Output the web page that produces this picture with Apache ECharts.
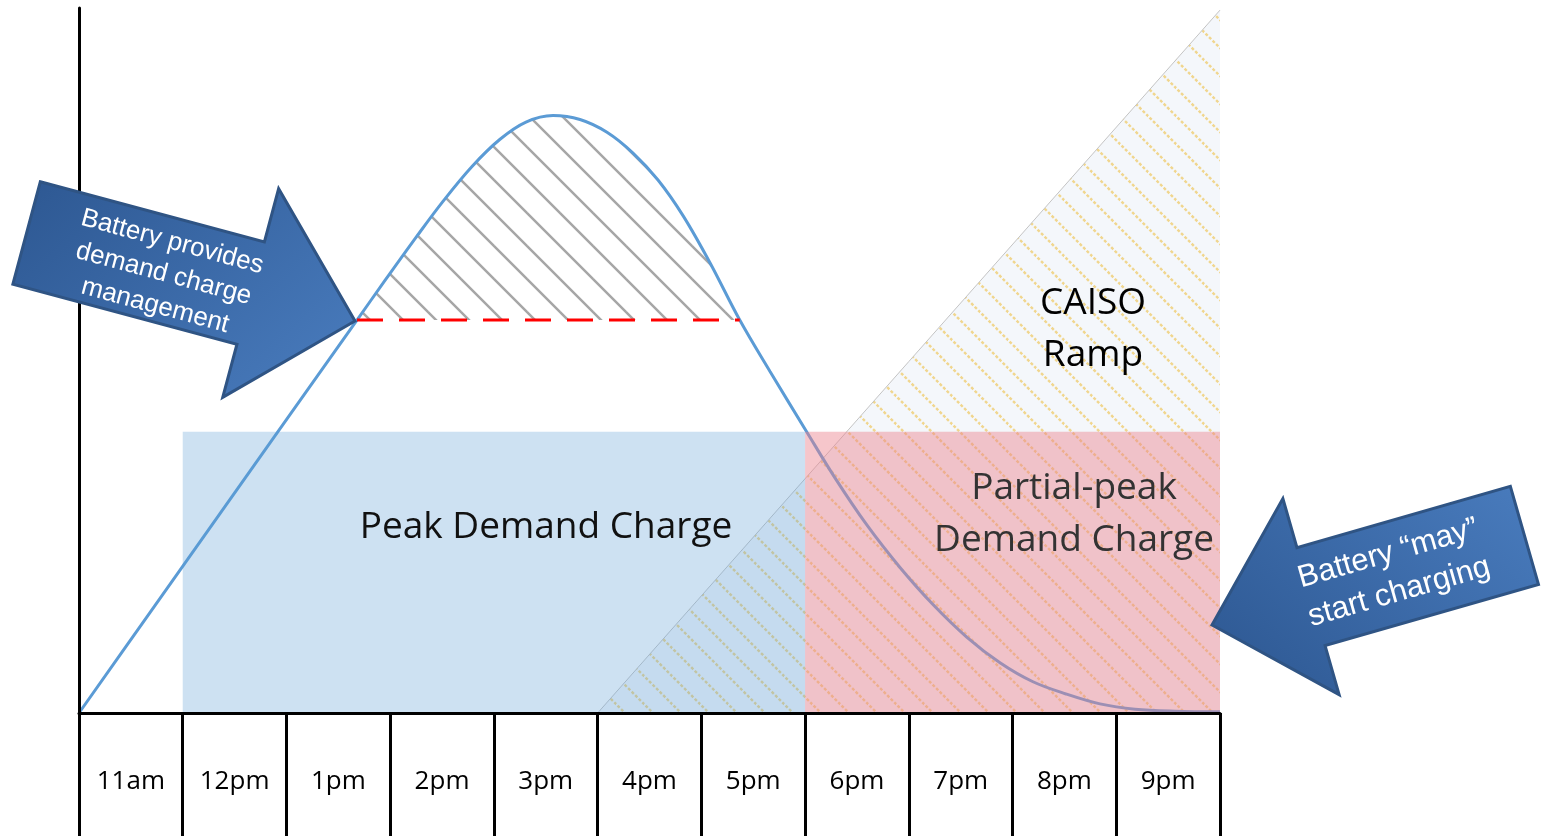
<!DOCTYPE html>
<html>
<head>
<meta charset="utf-8">
<title>Demand charge</title>
<script src="https://cdn.jsdelivr.net/npm/echarts@6/dist/echarts.min.js"></script>
<style>
  html, body { margin: 0; padding: 0; background: #fff; }
  #chart { width: 1542px; height: 836px; }
</style>
</head>
<body>
<div id="chart"></div>
<script>
// hour cells along the bottom
var hours = ['11am', '12pm', '1pm', '2pm', '3pm', '4pm', '5pm', '6pm', '7pm', '8pm', '9pm'];

// site demand curve (x = hours after 11am, y = relative demand)
var demandX = [0, 0.684, 1.359, 2.034, 2.68, 2.95, 3.249, 3.509, 3.789, 4.059, 4.309, 4.57, 4.83, 5.09,
               5.341, 5.582, 5.823, 6.083, 6.37, 6.662, 7.009, 7.288, 7.597, 7.915, 8.233, 8.561, 8.879,
               9.197, 9.515, 9.843, 10.18, 10.566, 11];
var demandY = [0, 14.24, 28.28, 42.33, 55.74, 61.35, 67.46, 72.57, 77.52, 81.38, 83.82, 84.75, 84.18, 82.37,
               79.42, 75.6, 70.55, 63.87, 55.74, 48.44, 40.04, 33.36, 26.64, 20.65, 15.39, 10.74, 7.13,
               4.43, 2.7, 1.29, 0.54, 0.26, 0.18];

// battery shaving level
var shaveLevel = 55.74;
var shaveRange = [2.68, 6.37];

// demand charge windows
var peakWindow = [1, 7];
var partialWindow = [7, 11];
var chargeTop = 39.9;

// CAISO ramp
var rampX = [5, 11];
var rampY = [0, 99.7];

function hatchTile(size, bg, color, width, dash, offset) {
  var c = document.createElement('canvas');
  c.width = size;
  c.height = size;
  var ctx = c.getContext('2d');
  if (bg) {
    ctx.fillStyle = bg;
    ctx.fillRect(0, 0, size, size);
  }
  ctx.strokeStyle = color;
  ctx.lineWidth = width;
  if (dash) ctx.setLineDash(dash);
  for (var k = -1; k <= 1; k++) {
    ctx.beginPath();
    ctx.moveTo(-2, offset + k * size - 2);
    ctx.lineTo(size + 2, offset + k * size + size + 2);
    ctx.stroke();
  }
  return c;
}

var grayHatch = hatchTile(33, null, '#a6a6a6', 2.5, null, 16);
var rampHatch = hatchTile(28, '#f4f7fb', '#f0d68e', 2.4, [3, 2], 4);

var curveData = demandX.map(function (x, i) { return [x, demandY[i]]; });
var shaveData = curveData.filter(function (p) { return p[0] >= shaveRange[0] && p[0] <= shaveRange[1]; });

var chart = echarts.init(document.getElementById('chart'));

var option = {
  animation: false,
  grid: { left: 79, right: 322, top: 8, bottom: 123 },
  xAxis: [
    { type: 'value', min: 0, max: 11, show: false },
    {
      type: 'category',
      data: hours,
      position: 'bottom',
      boundaryGap: true,
      z: 10,
      axisLine: { show: true, lineStyle: { color: '#000', width: 3 } },
      axisTick: { show: true, length: 123, lineStyle: { color: '#000', width: 3 } },
      axisLabel: {
        margin: 69,
        verticalAlign: 'middle',
        fontSize: 26,
        fontFamily: 'Open Sans',
        color: '#000'
      },
      splitLine: { show: false }
    }
  ],
  yAxis: {
    type: 'value',
    min: 0,
    max: 100,
    z: 10,
    axisLine: { show: true, lineStyle: { color: '#000', width: 3 } },
    axisTick: { show: false },
    axisLabel: { show: false },
    splitLine: { show: false }
  },
  series: [
    {
      name: 'CAISO Ramp',
      type: 'line',
      z: 1,
      xAxisIndex: 0,
      symbol: 'none',
      data: rampX.map(function (x, i) { return [x, rampY[i]]; }),
      lineStyle: { color: '#c4c4c4', width: 1 },
      areaStyle: { color: { image: rampHatch, repeat: 'repeat' }, opacity: 1 }
    },
    {
      name: 'Demand',
      type: 'line',
      z: 2,
      xAxisIndex: 0,
      symbol: 'none',
      smooth: 0.35,
      data: curveData,
      lineStyle: { color: '#5b9bd5', width: 3 }
    },
    {
      name: 'Shaved',
      type: 'line',
      z: 2,
      xAxisIndex: 0,
      symbol: 'none',
      smooth: 0.35,
      data: shaveData,
      lineStyle: { width: 0, opacity: 0 },
      areaStyle: { origin: shaveLevel, color: { image: grayHatch, repeat: 'repeat' }, opacity: 1 }
    },
    {
      name: 'Shave level',
      type: 'line',
      z: 3,
      xAxisIndex: 0,
      symbol: 'none',
      data: shaveRange.map(function (x) { return [x, shaveLevel]; }),
      lineStyle: { color: '#ff0000', width: 3, type: [26, 16] }
    },
    {
      name: 'Windows',
      type: 'custom',
      z: 4,
      xAxisIndex: 0,
      encode: { x: [0, 1], y: [2, 3] },
      data: [
        [peakWindow[0], peakWindow[1], 0, chargeTop],
        [partialWindow[0], partialWindow[1], 0, chargeTop]
      ],
      renderItem: function (params, api) {
        var colors = ['rgba(91,155,213,0.3)', 'rgba(236,128,140,0.45)'];
        var p0 = api.coord([api.value(0), api.value(3)]);
        var p1 = api.coord([api.value(1), api.value(2)]);
        return {
          type: 'rect',
          shape: { x: p0[0], y: p0[1], width: p1[0] - p0[0], height: p1[1] - p0[1] },
          style: { fill: colors[params.dataIndex] }
        };
      }
    }
  ],
  graphic: [
    {
      type: 'text', z: 20,
      style: { text: 'Peak Demand Charge', x: 546, y: 527, align: 'center', verticalAlign: 'middle',
               font: '37px "Open Sans"', fill: '#111' }
    },
    {
      type: 'text', z: 20,
      style: { text: 'Partial-peak\nDemand Charge', x: 1074, y: 514, align: 'center', verticalAlign: 'middle',
               font: '37px "Open Sans"', lineHeight: 52, fill: '#333' }
    },
    {
      type: 'text', z: 20,
      style: { text: 'CAISO\nRamp', x: 1093, y: 329, align: 'center', verticalAlign: 'middle',
               font: '37px "Open Sans"', lineHeight: 52, fill: '#000' }
    },
    {
      type: 'group', z: 20,
      x: 355, y: 321,
      rotation: -15 * Math.PI / 180,
      children: [
        {
          type: 'polygon', z: 20,
          shape: { points: [[-340, -53], [-108, -53], [-108, -108], [0, 0], [-108, 108], [-108, 53], [-340, 53]] },
          style: {
            fill: new echarts.graphic.LinearGradient(0, 0, 1, 1, [
              { offset: 0, color: '#2c5690' },
              { offset: 1, color: '#4a7dbf' }
            ]),
            stroke: '#2f5484',
            lineWidth: 3
          }
        },
        {
          type: 'text', z: 21,
          style: { text: 'Battery provides\ndemand charge\nmanagement', x: -197, y: 4, align: 'center',
                   verticalAlign: 'middle', font: '26px "Liberation Sans"', lineHeight: 33, fill: '#fff' }
        }
      ]
    },
    {
      type: 'group', z: 20,
      x: 1212, y: 625,
      rotation: 16 * Math.PI / 180,
      children: [
        {
          type: 'polygon', z: 20,
          shape: { points: [[0, 0], [103, -102], [103, -51], [325, -51], [325, 51], [103, 51], [103, 102]] },
          style: {
            fill: new echarts.graphic.LinearGradient(0, 1, 1, 0, [
              { offset: 0, color: '#2c5690' },
              { offset: 1, color: '#4a7dbf' }
            ]),
            stroke: '#2f5484',
            lineWidth: 3
          }
        },
        {
          type: 'text', z: 21,
          style: { text: 'Battery \u201cmay\u201d\nstart charging', x: 189, y: 0, align: 'center',
                   verticalAlign: 'middle', font: '31px "Liberation Sans"', lineHeight: 40, fill: '#fff' }
        }
      ]
    }
  ]
};

chart.setOption(option);
</script>
</body>
</html>
